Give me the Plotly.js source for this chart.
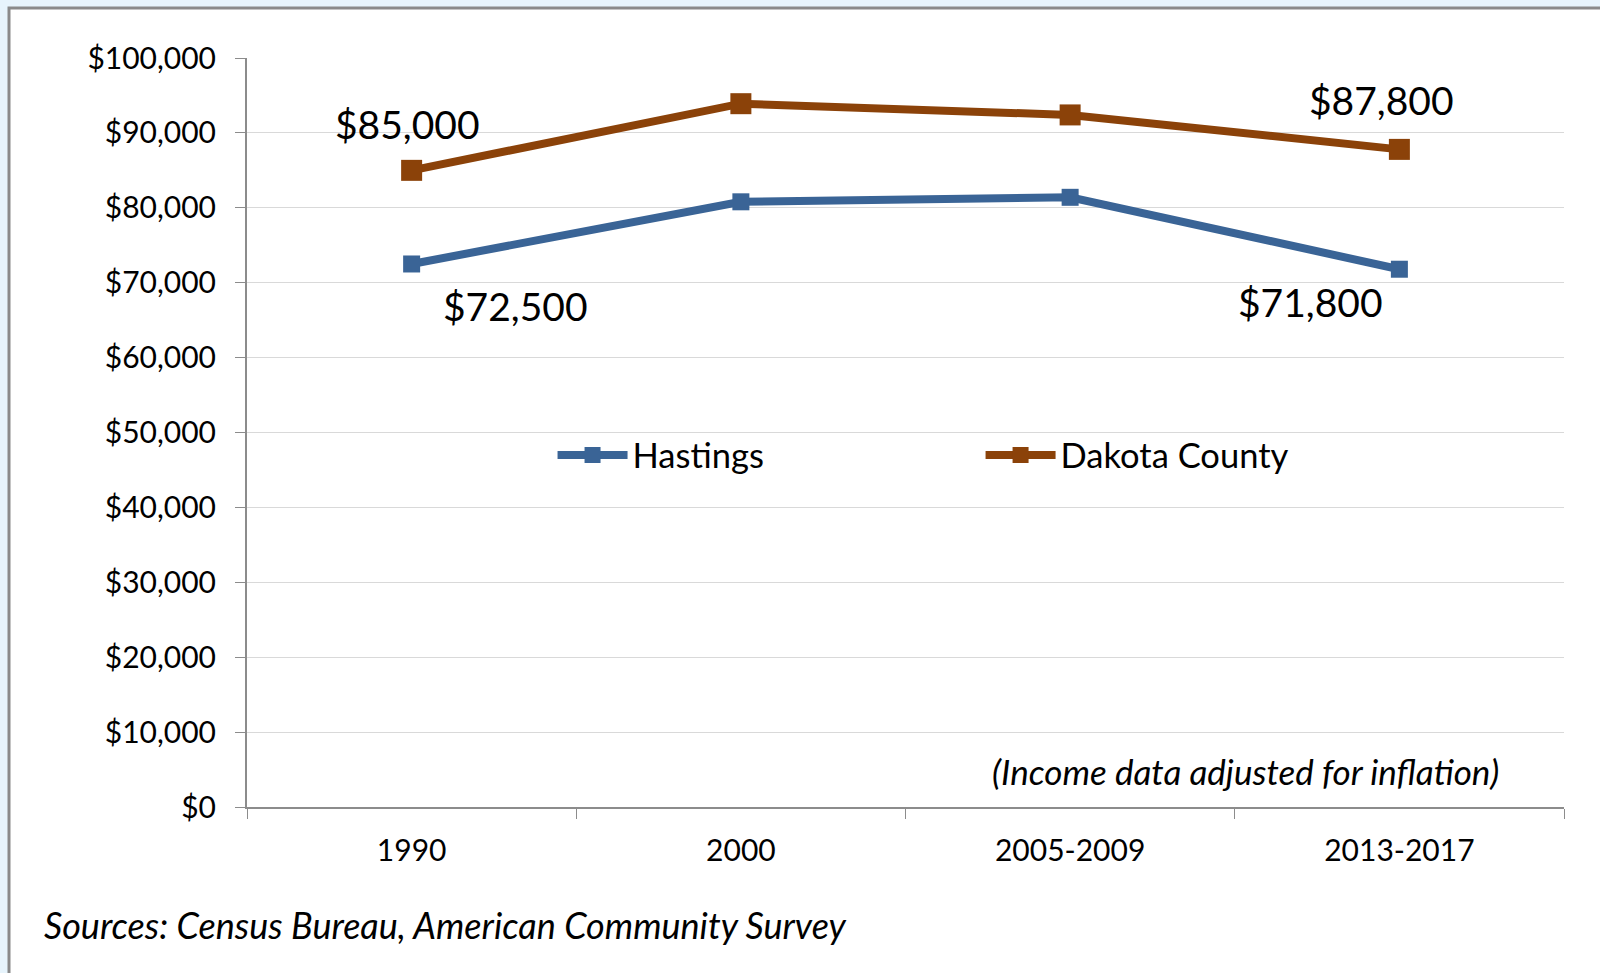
<!DOCTYPE html>
<html>
<head>
<meta charset="utf-8">
<script src="https://cdn.plot.ly/plotly-3.0.1.min.js"></script>
<style>
  html, body { margin: 0; padding: 0; background: #e7f4fc; }
  #chart { width: 1600px; height: 973px; }
</style>
</head>
<body>
<div id="chart"></div>
<script>
const categories = ["1990", "2000", "2005-2009", "2013-2017"];
const hastings = [72500, 80800, 81400, 71800];
const dakota = [85000, 93900, 92400, 87800];
const seriesNames = ["Hastings", "Dakota County"];
const yTicks = [0, 10000, 20000, 30000, 40000, 50000, 60000, 70000, 80000, 90000, 100000];
const sourceNote = "Sources: Census Bureau, American Community Survey";
const inflationNote = "(Income data adjusted for inflation)";

const FONT = "Lato, 'Open Sans', sans-serif";
const blue = "#3a6496";
const brown = "#8b4209";

const fmt = v => "$" + v.toLocaleString("en-US");

const traces = [
  {
    x: categories, y: hastings, name: seriesNames[0], type: "scatter", mode: "lines+markers",
    line: { color: blue, width: 8 },
    marker: { symbol: "square", size: 17, color: blue },
    legend: "legend", hoverinfo: "skip"
  },
  {
    x: categories, y: dakota, name: seriesNames[1], type: "scatter", mode: "lines+markers",
    line: { color: brown, width: 8 },
    marker: { symbol: "square", size: 21, color: brown },
    legend: "legend2", hoverinfo: "skip"
  }
];

const last = categories.length - 1;
// category axis: annotation x given as category index
const annotations = [
  { x: 0, y: dakota[0], text: fmt(dakota[0]), xshift: -4, yshift: 46 },
  { x: last, y: dakota[last], text: fmt(dakota[last]), xshift: -18, yshift: 49 },
  { x: 0, y: hastings[0], text: fmt(hastings[0]), xshift: 104, yshift: -42 },
  { x: last, y: hastings[last], text: fmt(hastings[last]), xshift: -89, yshift: -33 }
].map(a => Object.assign({
  xref: "x", yref: "y", showarrow: false, xanchor: "center", yanchor: "middle",
  font: { family: FONT, size: 39, color: "#000" }
}, a));

annotations.push({
  xref: "paper", yref: "paper", x: -0.1557, y: -0.1575, xanchor: "left", yanchor: "middle",
  showarrow: false, text: "<i>" + sourceNote + "</i>",
  font: { family: FONT, size: 36, color: "#000" }
});
annotations.push({
  xref: "paper", yref: "paper", x: 0.9522, y: 0.048, xanchor: "right", yanchor: "middle",
  showarrow: false, text: "<i>" + inflationNote + "</i>",
  font: { family: FONT, size: 35, color: "#000" }
});

const legendCommon = {
  orientation: "h", yanchor: "middle", xanchor: "left", y: 0.47,
  bgcolor: "rgba(0,0,0,0)", itemwidth: 70,
  font: { family: FONT, size: 34.5, color: "#000" }
};

const layout = {
  width: 1600, height: 973,
  paper_bgcolor: "#e7f4fc",
  plot_bgcolor: "rgba(0,0,0,0)",
  margin: { l: 247, r: 36, t: 58, b: 166 },
  font: { family: FONT, color: "#000" },
  showlegend: true,
  legend: Object.assign({}, legendCommon, { x: 0.232 }),
  legend2: Object.assign({}, legendCommon, { x: 0.557 }),
  xaxis: {
    type: "category", range: [-0.5, 3.5], tickson: "boundaries",
    showline: true, linecolor: "#8c8c8c", linewidth: 2,
    ticks: "outside", ticklen: 10, tickcolor: "#8c8c8c", tickwidth: 1,
    showgrid: false, zeroline: false,
    tickfont: { family: FONT, size: 30, color: "#000" },
    ticklabelstandoff: 16, fixedrange: true
  },
  yaxis: {
    range: [0, 100000], tickvals: yTicks, ticktext: yTicks.map(fmt),
    showline: true, linecolor: "#8c8c8c", linewidth: 2,
    ticks: "outside", ticklen: 10, tickcolor: "#8c8c8c", tickwidth: 1,
    showgrid: true, gridcolor: "#d9d9d9", gridwidth: 1, zeroline: false,
    tickfont: { family: FONT, size: 30, color: "#000" },
    ticklabelstandoff: 13, fixedrange: true
  },
  shapes: [{
    type: "rect", xref: "paper", yref: "paper", layer: "below",
    x0: (9 - 247) / 1317, x1: 1.2, y0: -0.4, y1: (807 - 8) / 749,
    fillcolor: "#ffffff", line: { color: "#8a8a8a", width: 3 }
  }],
  annotations: annotations
};

Plotly.newPlot("chart", traces, layout, { displayModeBar: false, staticPlot: true });
</script>
</body>
</html>
